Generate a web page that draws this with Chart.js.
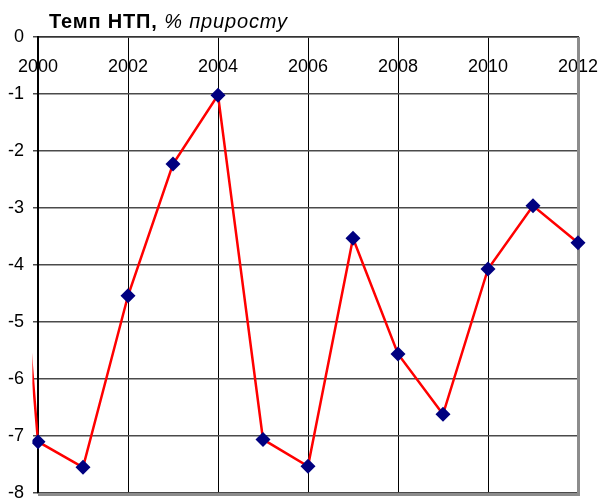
<!DOCTYPE html>
<html>
<head>
<meta charset="utf-8">
<script src="https://cdn.jsdelivr.net/npm/chart.js@4"></script>
<style>
  html, body { margin: 0; padding: 0; background: #fff; }
  #wrap { position: relative; width: 600px; height: 502px; }
  #title { position: absolute; left: 49px; top: 10px; font-family: "Liberation Sans", Arial, sans-serif; font-size: 20px; line-height: 22px; letter-spacing: 0.85px; color: #000; white-space: nowrap; }
  #title b { font-weight: bold; }
  #title i { font-style: italic; font-weight: normal; }
</style>
</head>
<body>
<div id="wrap">
  <canvas id="c" width="600" height="502"></canvas>
  <div id="title"><b>Темп НТП,</b> <i>% приросту</i></div>
</div>
<script>
const years = [1999, 2000, 2001, 2002, 2003, 2004, 2005, 2006, 2007, 2008, 2009, 2010, 2011, 2012];
const growth = [2.6, -7.1, -7.55, -4.54, -2.23, -1.02, -7.06, -7.53, -3.53, -5.56, -6.62, -4.07, -2.96, -3.61];
const xTickYears = [2000, 2002, 2004, 2006, 2008, 2010, 2012];
const yTicks = [0, -1, -2, -3, -4, -5, -6, -7, -8];

const FONT = '"Liberation Sans", Arial, sans-serif';

const frame = {
  id: 'frame',
  beforeDatasetsDraw(chart) {
    const a = chart.chartArea, ctx = chart.ctx;
    ctx.save();
    ctx.strokeStyle = '#8c8c8c';
    ctx.lineWidth = 3;
    ctx.beginPath();
    ctx.moveTo(a.right + 0.5, a.top);
    ctx.lineTo(a.right + 0.5, a.bottom + 1.5);
    ctx.lineTo(a.left, a.bottom + 1.5);
    ctx.stroke();
    ctx.restore();
  }
};

new Chart(document.getElementById('c'), {
  type: 'line',
  data: {
    datasets: [{
      data: years.map((y, i) => ({ x: y, y: growth[i] })),
      borderColor: '#ff0000',
      borderWidth: 2.5,
      pointStyle: 'rectRot',
      pointRadius: 7.5,
      pointHoverRadius: 7.5,
      pointBackgroundColor: '#000080',
      pointBorderColor: '#000080',
      pointBorderWidth: 0,
      tension: 0,
      clip: { left: 5.6, top: 12, right: 12, bottom: 12 }
    }]
  },
  options: {
    responsive: false,
    animation: false,
    events: [],
    layout: { padding: { top: 37, right: 22, bottom: 9, left: 0 } },
    plugins: { legend: { display: false }, tooltip: { enabled: false }, title: { display: false } },
    scales: {
      x: {
        type: 'linear',
        position: 'top',
        min: 2000,
        max: 2012,
        afterBuildTicks: s => { s.ticks = xTickYears.map(v => ({ value: v })); },
        afterFit: s => { s.height = 0; s.paddingLeft = 0; s.paddingRight = 0; },
        ticks: {
          mirror: true,
          padding: 19,
          maxRotation: 0,
          autoSkip: false,
          color: '#000',
          font: { family: FONT, size: 18 },
          callback: v => String(v)
        },
        grid: { color: '#000000', lineWidth: 1, drawTicks: false },
        border: { color: '#333333', width: 1.5 }
      },
      y: {
        min: -8,
        max: 0,
        afterBuildTicks: s => { s.ticks = yTicks.map(v => ({ value: v })); },
        afterFit: s => { s.width = 38; s.paddingTop = 0; s.paddingBottom = 0; },
        ticks: {
          padding: 9,
          color: '#000',
          font: { family: FONT, size: 18 },
          callback: v => String(v)
        },
        grid: { color: '#4a4a4a', lineWidth: 1.5, tickLength: 5, tickColor: '#4a4a4a' },
        border: { color: '#000', width: 2 }
      }
    }
  },
  plugins: [frame]
});
</script>
</body>
</html>
